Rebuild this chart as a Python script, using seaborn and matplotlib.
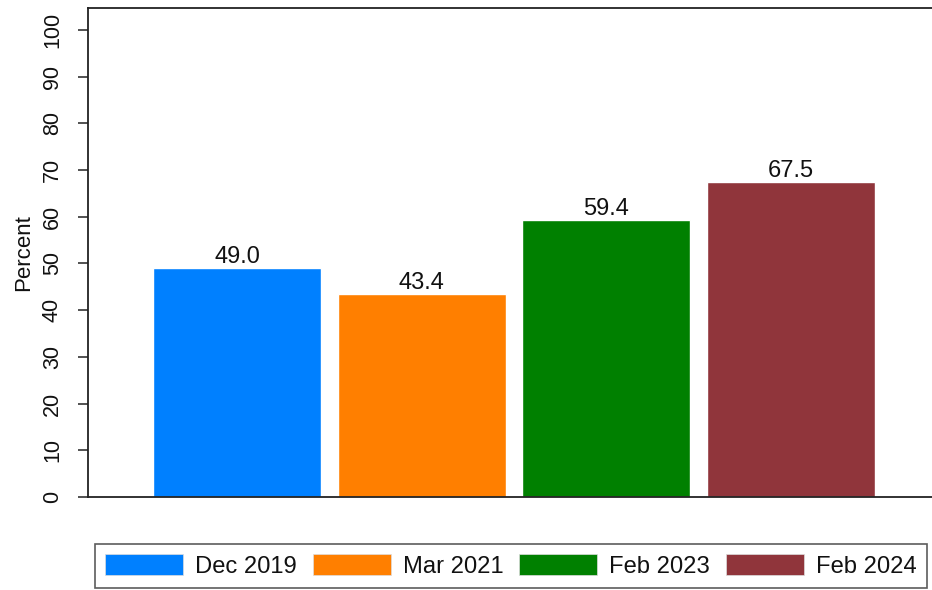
import pandas as pd
import seaborn as sns
import matplotlib.pyplot as plt
from matplotlib.patches import Patch

# values
periods = ['Dec 2019', 'Mar 2021', 'Feb 2023', 'Feb 2024']
percent = [49.0, 43.4, 59.4, 67.5]
colors = ['#0080ff', '#ff7f00', '#008000', '#90353b']
y_ticks = [0, 10, 20, 30, 40, 50, 60, 70, 80, 90, 100]

df = pd.DataFrame({'period': periods, 'percent': percent})

sns.set_style('white')
plt.rcParams['font.family'] = ['Liberation Sans', 'DejaVu Sans']

fig = plt.figure(figsize=(9.32, 5.9), dpi=100)
# axes run past the right edge like the cropped original
ax = fig.add_axes([88 / 932, 93 / 590, (940 - 88) / 932, 489 / 590])

sns.barplot(data=df, x='period', y='percent', hue='period', palette=colors,
            order=periods, hue_order=periods, dodge=False, width=0.91,
            legend=False, ax=ax, saturation=1)

for cont in ax.containers:
    ax.bar_label(cont, fmt='%.1f', padding=0, fontsize=17, color='#111111')

ax.set_xlim(-0.81, 3.81)
ax.set_ylim(0, 104.7)
ax.set_yticks(y_ticks)
ax.set_yticklabels([str(t) for t in y_ticks], rotation=90, va='center', fontsize=15.5,
                   color='#111111')
ax.tick_params(axis='y', left=True, length=7, width=1.2, color='#333333', pad=11)
ax.tick_params(axis='x', bottom=False, labelbottom=False)
ax.set_xlabel('')
ax.set_ylabel('Percent', fontsize=16, labelpad=6, color='#111111')

for side in ['left', 'bottom', 'top']:
    ax.spines[side].set_color('#222222')
    ax.spines[side].set_linewidth(1.3)
ax.spines['right'].set_visible(False)

# legend at the bottom, four in a row (frame runs to the right edge)
handles = [Patch(facecolor=c, edgecolor='#dddddd', linewidth=0.5) for c in colors]
leg = fig.legend(handles, periods, loc='upper left', bbox_to_anchor=(95 / 932, 1 - 544 / 590),
                 ncol=4, fontsize=17.1, handlelength=3.28, handleheight=1.0,
                 handletextpad=0.52, columnspacing=0.66, borderpad=0.42,
                 frameon=True, fancybox=False, borderaxespad=0)
leg.get_frame().set_edgecolor('#333333')
leg.get_frame().set_linewidth(1.2)
for t in leg.get_texts():
    t.set_color('#111111')

fig.savefig('out.png', dpi=100)
plt.close()
